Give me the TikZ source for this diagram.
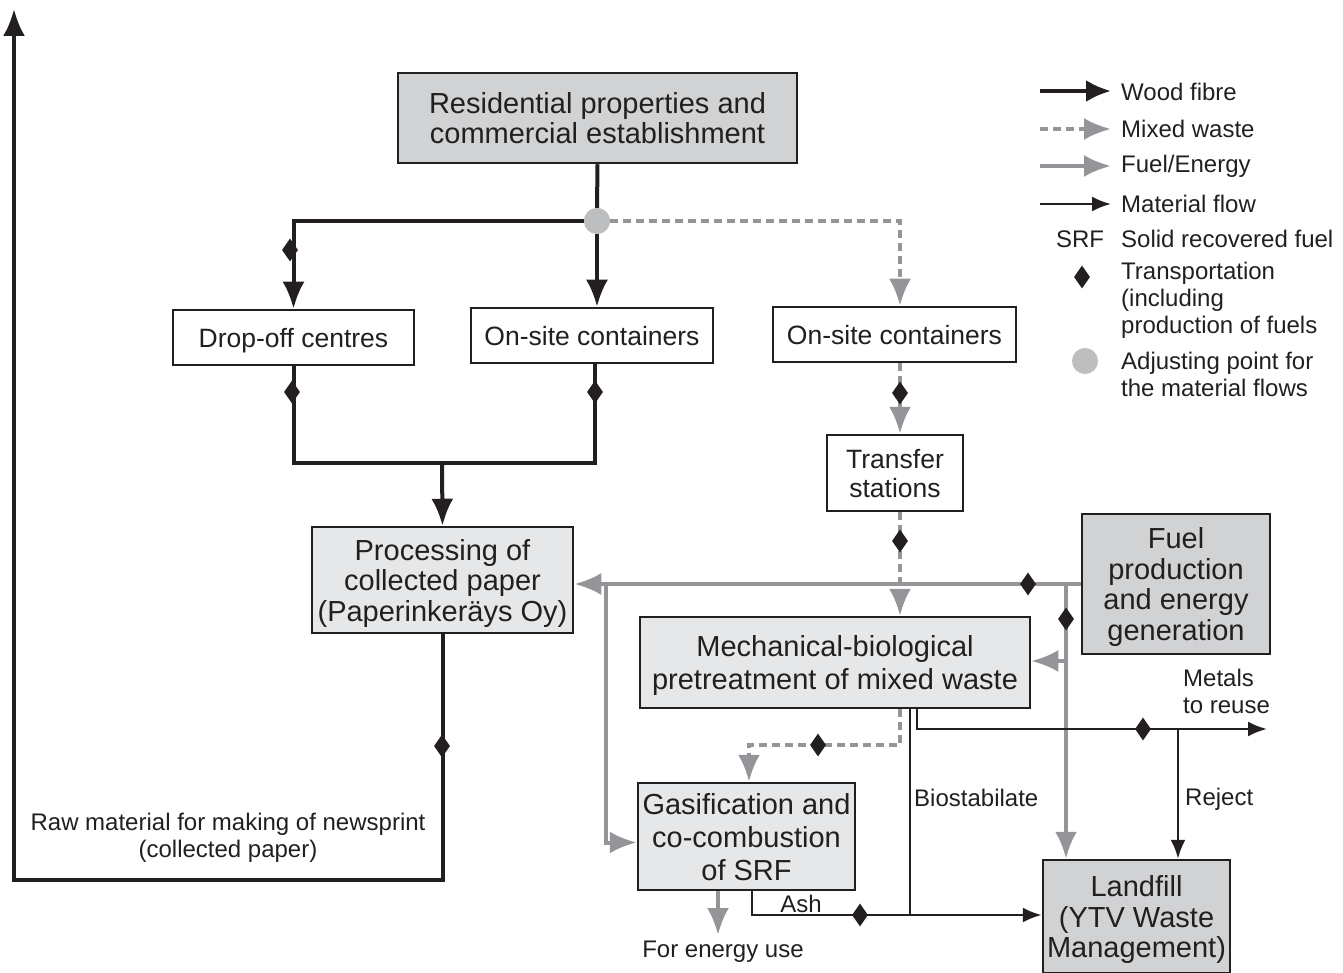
\documentclass[tikz,border=0pt]{standalone}
\usepackage{fontspec}
\setmainfont{Liberation Sans}
\usetikzlibrary{arrows.meta,shapes.geometric}
\definecolor{ink}{HTML}{231F20}
\definecolor{lgray}{HTML}{939598}
\definecolor{boxdark}{HTML}{D1D2D4}
\definecolor{boxlight}{HTML}{E6E7E8}
\definecolor{adj}{HTML}{BCBEC0}
\begin{document}
\begin{tikzpicture}[x=1pt,y=-1pt,
 box/.style={draw=ink,line width=2.5pt,align=center,inner sep=0pt,text=ink,text depth=0pt},
 bigtxt/.style={font=\fontsize{29}{30.5}\selectfont},
 widetxt/.style={font=\fontsize{29}{33}\selectfont},
 medtxt/.style={font=\fontsize{26.5}{29}\selectfont},
 lab/.style={font=\fontsize{24}{27}\selectfont,text=ink,inner sep=0pt},
 wood/.style={draw=ink,line width=4pt,line join=miter,-{Latex[length=27pt,width=22pt]}},
 mixed/.style={draw=lgray,line width=4pt,dash pattern=on 8pt off 5pt,-{Latex[length=27pt,width=22pt,fill=lgray]}},
 fuelflow/.style={draw=lgray,line width=4pt,line join=miter,-{Latex[length=27pt,width=22pt,fill=lgray]}},
 mat/.style={draw=ink,line width=2.5pt,line join=miter,-{Latex[length=19pt,width=15pt]}},
 dia/.style={diamond,fill=ink,draw=none,minimum width=16pt,minimum height=23pt,inner sep=0pt},
 adjpt/.style={circle,fill=adj,draw=none,minimum size=26pt,inner sep=0pt}
]
\useasboundingbox (0,0) rectangle (1343,973);

% ---------- boxes ----------
\node[box,bigtxt,fill=boxdark,minimum width=399pt,minimum height=90pt] (res) at (597.5,118) {Residential properties and\\commercial establishment};
\node[box,medtxt,fill=white,minimum width=241pt,minimum height=55pt] (drop) at (293.5,337.5) {Drop-off centres};
\node[box,medtxt,fill=white,minimum width=242pt,minimum height=55pt] (onsite1) at (592,335.5) {On-site containers};
\node[box,medtxt,fill=white,minimum width=243pt,minimum height=55pt] (onsite2) at (894.5,334.5) {On-site containers};
\node[box,medtxt,fill=white,minimum width=136pt,minimum height=76pt] (transfer) at (895,473) {Transfer\\stations};
\node[box,bigtxt,fill=boxlight,minimum width=261pt,minimum height=106pt] (proc) at (442.5,580) {Processing of\\collected paper\\(Paperinkeräys Oy)};
\node[box,bigtxt,fill=boxdark,minimum width=188pt,minimum height=140pt] (fuel) at (1176,584) {Fuel\\production\\and energy\\generation};
\node[box,widetxt,fill=boxlight,minimum width=390pt,minimum height=91pt] (mbt) at (835,662.5) {Mechanical-biological\\pretreatment of mixed waste};
\node[box,widetxt,fill=boxlight,minimum width=217pt,minimum height=107pt] (gas) at (746.5,836.5) {Gasification and\\co-combustion\\of SRF};
\node[box,bigtxt,fill=boxdark,minimum width=187pt,minimum height=113pt] (landfill) at (1136.5,916.5) {Landfill\\(YTV Waste\\Management)};

% ---------- helper coordinates ----------
\coordinate (xo1) at (595,0);
\coordinate (xmw) at (900,0);
\coordinate (jn) at (442,463);
\coordinate (ret) at (14,880);
\coordinate (topend) at (14,9);
\coordinate (f1) at (606,584);
\coordinate (f2) at (1066,584);
\coordinate (f3) at (1066,661);
\coordinate (mwb) at (749,745);
\coordinate (xmet) at (917,0);
\coordinate (met) at (1267,729);
\coordinate (rj) at (1178,729);
\coordinate (bs) at (910,915);
\coordinate (ash) at (752,915);
\coordinate (fe) at (718,935);

% ---------- wood fibre ----------
\node[adjpt] (circ) at (597,221) {};
\draw[wood,-] (res.south) -- (circ.north);
\draw[wood] (circ.west) -| (drop.north);
\draw[wood] (circ.south) -- (circ.south |- onsite1.north);
\draw[wood,-] (drop.south) |- (jn) -| (onsite1.south -| xo1);
\draw[wood] (jn) -- (proc.north);
\draw[wood] (proc.south) |- (ret) -- (topend);

% ---------- mixed waste ----------
\draw[mixed] (circ.east) -| (onsite2.north -| xmw);
\draw[mixed] (onsite2.south -| xmw) -- (transfer.north -| xmw);
\draw[mixed] (transfer.south -| xmw) -- (mbt.north -| xmw);
\draw[mixed] (mbt.south -| xmw) |- (mwb) -- (gas.north -| mwb);

% ---------- fuel / energy ----------
\draw[fuelflow] (fuel.west) -- (fuel.west -| proc.east);
\draw[fuelflow] (f1) |- ([yshift=-6pt]gas.west);
\draw[fuelflow] (f2) -- (f2 |- landfill.north);
\draw[fuelflow] (f3) -- (f3 -| mbt.east);
\draw[fuelflow] (gas.south -| fe) -- (fe);

% ---------- material flow ----------
\draw[mat] (mbt.south -| xmet) |- (met);
\draw[mat] (rj) -- (rj |- landfill.north);
\draw[mat,-] (mbt.south -| bs) -- (bs);
\draw[mat] (gas.south -| ash) |- (ash -| landfill.west);

% redraw circle on top
\node[adjpt] at (circ) {};

% ---------- transport diamonds ----------
\node[dia] (t1) at (290,250) {};
\node[dia] (t2) at (292,392) {};
\node[dia] (t3) at (595,392) {};
\node[dia] (t4) at (442,746) {};
\node[dia] (t5) at (900,393) {};
\node[dia] (t6) at (900,541) {};
\node[dia] (t7) at (1028,584) {};
\node[dia] (t8) at (1066,619) {};
\node[dia] (t9) at (818,745) {};
\node[dia] (t10) at (1143,729) {};
\node[dia] (t11) at (860,915) {};

% ---------- labels ----------
\node[lab,align=center] (rawlab) at (228,838) {Raw material for making of newsprint\\(collected paper)};
\node[lab,anchor=west] (biolab) at (914,798) {Biostabilate};
\node[lab,anchor=west] (rejlab) at (1185,799) {Reject};
\node[lab,align=left,anchor=west] (metlab) at (1183,691) {Metals\\to reuse};
\node[lab] (ashlab) at (801,904) {Ash};
\node[lab] (felab) at (723,952) {For energy use};

% ---------- legend ----------
\coordinate (l1a) at (1040,91);  \coordinate (l1b) at (1111,91);
\coordinate (l2a) at (1040,129); \coordinate (l2b) at (1111,129);
\coordinate (l3a) at (1040,166); \coordinate (l3b) at (1111,166);
\coordinate (l4a) at (1040,204); \coordinate (l4b) at (1111,204);
\draw[wood,-{Latex[length=25pt,width=22pt]}] (l1a) -- (l1b);
\draw[mixed] (l2a) -- (l2b);
\draw[fuelflow] (l3a) -- (l3b);
\draw[mat] (l4a) -- (l4b);
\node[lab,anchor=west] (lg1) at (1121,92) {Wood fibre};
\node[lab,anchor=west] (lg2) at (1121,129) {Mixed waste};
\node[lab,anchor=west] (lg3) at (1121,166) {Fuel/Energy};
\node[lab,anchor=west] (lg4) at (1121,204) {Material flow};
\node[lab] (srf) at (1080,239) {SRF};
\node[lab,anchor=west] (lg5) at (1121,239) {Solid recovered fuel};
\node[dia] (lgd) at (1082,277) {};
\node[lab,anchor=west,align=left] (lg6) at (1121,300.5) {Transportation\\(including\\production of fuels};
\node[adjpt] (lgc) at (1085,361) {};
\node[lab,anchor=west,align=left] (lg7) at (1121,374.5) {Adjusting point for\\the material flows};
\end{tikzpicture}
\end{document}
